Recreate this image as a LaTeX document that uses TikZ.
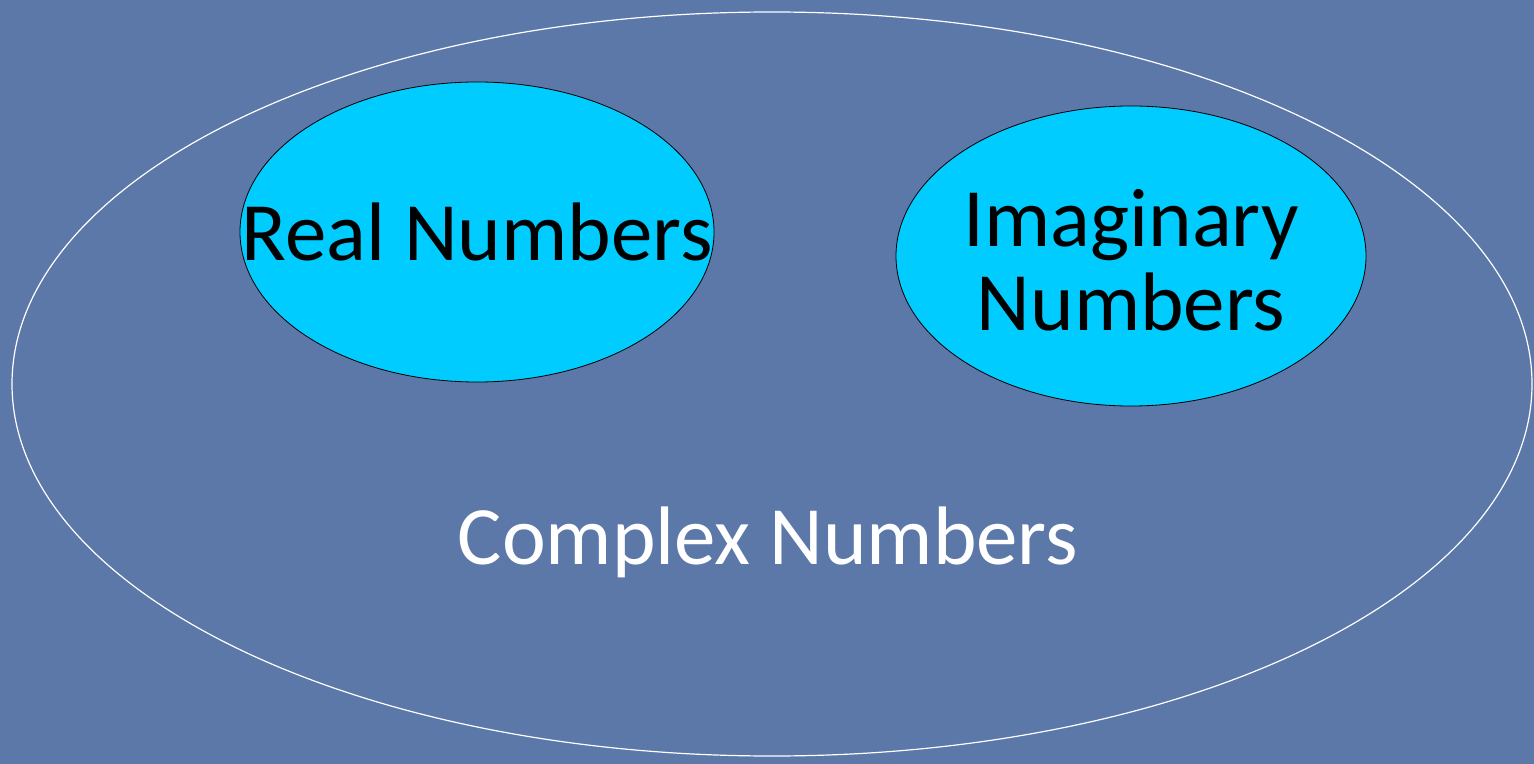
\documentclass[tikz,border=0pt]{standalone}
\usepackage{fontspec}
\setmainfont{Carlito}
\usetikzlibrary{shapes.geometric}
\definecolor{bg}{HTML}{5B78A8}
\definecolor{cy}{HTML}{00CCFF}
\tikzset{
  inner/.style={ellipse, draw=black, line width=0.4pt, fill=cy, inner sep=0pt},
  lbl/.style={font=\fontsize{41.5}{42}\selectfont, align=center},
}
\begin{document}
\begin{tikzpicture}[x=0.5pt,y=-0.5pt]
\fill[bg] (0,0) rectangle (1534,764);
\useasboundingbox (0,0) rectangle (1534,764);
\node[ellipse, draw=white, line width=0.6pt, minimum width=760pt, minimum height=372pt, inner sep=0pt] (cx) at (772,384) {};
\node[inner, minimum width=237pt, minimum height=150pt] (re) at (477,232) {};
\node[inner, minimum width=235pt, minimum height=150pt] (im) at (1131,256) {};
\node[lbl, text=black] (ret) at (re) {Real Numbers};
\node[lbl, text=black] (imt) at ([yshift=-2pt]im.center) {Imaginary\\Numbers};
\node[lbl, text=white] (cxt) at (768,542) {Complex Numbers};
\end{tikzpicture}
\end{document}
